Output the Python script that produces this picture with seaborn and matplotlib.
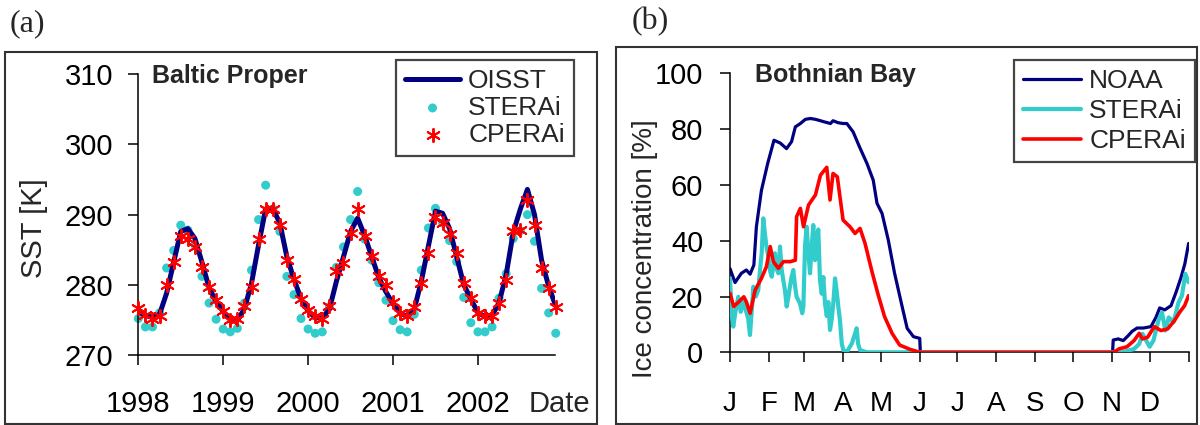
import numpy as np
import seaborn as sns
import matplotlib.pyplot as plt
from matplotlib.patches import Rectangle

sns.set_theme(style='ticks')
plt.rcParams['font.family'] = ['Liberation Sans', 'DejaVu Sans']

# (a) Baltic Proper, monthly SST [K], Jan 1998 - Dec 2002
months = np.arange(60)
oisst = [276.2, 275.6, 275.4, 275.8, 278.8, 283.2, 287.6, 288.0, 286.6, 283.2, 279.6, 277.6,
         276.2, 275.0, 274.9, 276.6, 280.2, 285.7, 290.8, 290.9, 288.8, 284.0, 280.8, 278.0,
         276.3, 275.3, 275.3, 276.5, 280.5, 284.0, 287.6, 289.5, 287.0, 284.0, 281.0, 279.0,
         277.3, 276.0, 275.5, 276.5, 280.5, 285.5, 290.5, 290.2, 288.0, 284.0, 280.0, 278.0,
         276.0, 275.5, 275.6, 277.5, 281.5, 287.5, 290.8, 293.6, 290.0, 283.5, 279.8, 277.0]
sterai = [275.2, 274.0, 274.0, 276.0, 282.4, 284.9, 288.5, 287.8, 285.7, 281.2, 277.4, 275.1,
          273.7, 273.3, 273.8, 277.4, 282.1, 289.3, 294.2, 290.8, 287.6, 281.2, 278.6, 275.2,
          273.7, 273.1, 273.3, 276.9, 282.5, 285.4, 289.3, 293.3, 286.5, 283.5, 280.3, 277.8,
          274.9, 273.6, 273.3, 275.8, 282.1, 288.1, 290.9, 288.8, 286.3, 283.3, 278.2, 274.6,
          273.3, 273.3, 274.0, 278.1, 281.6, 286.6, 287.7, 290.0, 286.2, 279.5, 276.0, 273.1]
cperai = [276.7, 275.7, 275.2, 275.5, 280.0, 283.3, 286.9, 286.6, 285.4, 282.6, 279.7, 277.9,
          276.2, 275.0, 275.1, 277.0, 279.7, 286.6, 290.8, 290.8, 288.5, 283.6, 280.9, 278.0,
          276.4, 275.5, 275.2, 277.0, 281.9, 283.1, 287.4, 290.8, 286.9, 284.1, 281.3, 280.0,
          277.6, 276.0, 275.5, 276.8, 280.2, 284.5, 289.7, 288.8, 287.2, 284.5, 280.2, 278.1,
          276.0, 275.6, 275.6, 277.4, 280.7, 287.6, 287.8, 292.1, 288.5, 282.4, 279.5, 276.8]
years = [1998, 1999, 2000, 2001, 2002]

# (b) Bothnian Bay, ice concentration [%] by day of year
noaa_day = [0, 4, 9, 13, 16, 19, 21, 25, 30, 35, 40, 45, 49, 52, 56, 60, 64, 68, 72, 75, 80, 82,
            86, 90, 93, 98, 103, 109, 114, 117, 121, 126, 131, 137, 141, 146, 151, 151.5,
            304.5, 305, 309, 313, 317, 320, 324, 329, 335, 339, 342, 346, 351, 355, 359, 362, 365]
noaa_val = [30, 25, 28.3, 29.5, 28, 31.3, 45, 58, 67.7, 76, 75, 73, 75.5, 80.8, 82, 83.5, 83.8,
            83.5, 83, 82.6, 82, 83, 82.3, 82, 82, 79, 73.7, 67.7, 61.7, 53.4, 49.8, 40.2, 28.3,
            16.4, 8.6, 5.6, 5, 0, 0, 4.4, 4.8, 4.2, 6, 7.5, 8.7, 8.7, 9.2, 12.5, 15.9, 15.2,
            16.7, 21.5, 26.9, 31.7, 39]
ster_day = [0, 1.3, 2.6, 4.5, 6.6, 8.5, 10.6, 12.5, 14.5, 15.9, 17.5, 18.6, 20.5, 22.5, 24, 25.2,
            26.5, 27.9, 29, 30.5, 32, 33.2, 34.5, 35.8, 37, 38.5, 39.8, 41, 42.4, 43.8, 45.1,
            46.5, 47.7, 49, 50.4, 51.7, 53, 55.7, 57.5, 58.4, 59.7, 61, 62.3, 63.7, 65, 66.3,
            67.7, 69, 70.3, 71.6, 73, 74.3, 75.6, 77, 78.3, 79.6, 81, 82.2, 83.6, 84.9, 86.2,
            87.5, 89, 90.2, 93, 95.5, 97, 99, 100.8, 102, 103.5, 109, 150,
            312, 321.6, 325.7, 328.3, 334, 337, 341, 343.8, 346.5, 349.2, 353, 357, 359.7,
            362.4, 365]
ster_val = [26.5, 14, 9.2, 15, 19.9, 14.5, 18, 15.2, 12, 6.2, 16, 23.5, 20, 22.3, 30, 35.5,
            48, 42, 38, 34.3, 29, 27.1, 31, 35.5, 30, 28.3, 37.9, 30, 25.9, 22, 16.4,
            20, 23.5, 27, 29.5, 24, 19.9, 17.5, 14, 16.4, 38, 45, 36, 28.3, 38, 45.6,
            33, 41.4, 44, 25.9, 21, 27, 17.5, 13, 18, 8, 12, 17.5, 26.5, 22, 16.4,
            11.6, 3, 0.8, 0.2, 2, 3.2, 6, 8.6, 3, 0.8, 0, 0,
            0, 1.2, 3, 6.6, 2, 4.2, 11.4, 14.3, 7.8, 12.5, 10.8, 17.9, 20.3, 28.1, 25.1]
cper_day = [0, 3, 7, 11, 13, 16, 20, 25, 29, 32, 34.5, 38.5, 42.5, 48, 52, 53, 56, 58.5, 62.5,
            68, 72, 77, 79.6, 82, 85.4, 90, 95.5, 99.5, 103.5, 107.5, 113, 118, 123, 129, 135,
            143, 151, 305.5, 309.5, 316, 321.6, 325.7, 328.3, 332.4, 337.7, 343, 348.4, 353.8,
            357.8, 361.8, 365]
cper_val = [21.1, 16.4, 18.1, 19.9, 18.1, 14, 22.3, 26.5, 30.7, 37.9, 32.5, 30.1, 32.5, 32.5, 33,
            48.6, 51.6, 45, 52.8, 56.4, 63.5, 66.3, 54.6, 64.1, 62.9, 47.4, 45, 42.6, 44.4, 39,
            28.9, 20.5, 12.8, 6.8, 2.6, 1.1, 0, 0, 1.2, 2, 4.2, 6.8, 4.8, 5.4, 9.2, 7.8, 8.4,
            11.4, 14.3, 16.7, 20.3]
month_start = [0, 31, 59, 90, 120, 151, 181, 212, 243, 273, 304, 334, 365]
month_lab = ['J', 'F', 'M', 'A', 'M', 'J', 'J', 'A', 'S', 'O', 'N', 'D', '']

navy = '#000080'
cyan = '#33CCCC'
red = '#FF0000'

fig = plt.figure(figsize=(12, 4.25), dpi=100)
W, H = 1200, 425

def axes_px(x0, x1, ytop, ybot):
    return fig.add_axes([x0 / W, 1 - ybot / H, (x1 - x0) / W, (ybot - ytop) / H])

ax1 = axes_px(138.3, 555, 74.3, 355)
ax2 = axes_px(730, 1188.6, 73.3, 352.3)

# panel (a)
t = 1998 + months / 12
sns.scatterplot(x=t, y=sterai, ax=ax1, color=cyan, s=42, edgecolor='none',
                label='STERAi', zorder=2, clip_on=False)
sns.lineplot(x=t, y=oisst, ax=ax1, color=navy, lw=3.6, label='OISST', zorder=3)
sns.scatterplot(x=t, y=cperai, ax=ax1, color=red, marker=(6, 2, 0), s=90, linewidth=1.4,
                label='CPERAi', zorder=4, clip_on=False)
ax1.set_xlim(1998, 2002.908)
ax1.set_ylim(270, 310)
ax1.set_xticks(years)
ax1.set_yticks([270, 280, 290, 300, 310])
ax1.set_xlabel('')
ax1.set_ylabel('')
ax1.annotate('Date', xy=(1, 0), xycoords='axes fraction', xytext=(3, -25.5),
             textcoords='offset points', ha='center', va='top', fontsize=21)
h, l = ax1.get_legend_handles_labels()
order = [l.index('OISST'), l.index('STERAi'), l.index('CPERAi')]
ax1.legend([h[i] for i in order], [l[i] for i in order], loc='upper right',
           bbox_to_anchor=(574 / W, 1 - 60 / H), bbox_transform=fig.transFigure,
           borderaxespad=0, fontsize=19, frameon=True, fancybox=False, framealpha=1,
           edgecolor='#444444', handlelength=2.1, handletextpad=0.3, labelspacing=0.1,
           borderpad=0.35, scatterpoints=1)
ax1.get_legend().get_frame().set_linewidth(1.6)
fig.text(152 / W, 1 - 83 / H, 'Baltic Proper', fontsize=18, fontweight='bold',
         va='baseline')
fig.text(34.5 / W, 1 - 228.5 / H, 'SST [K]', fontsize=21, rotation=90,
         ha='center', va='center')

# panel (b)
sns.lineplot(x=noaa_day, y=noaa_val, ax=ax2, color=navy, lw=2.3, label='NOAA', zorder=2)
sns.lineplot(x=ster_day, y=ster_val, ax=ax2, color=cyan, lw=3.0, label='STERAi', zorder=3)
sns.lineplot(x=cper_day, y=cper_val, ax=ax2, color=red, lw=2.6, label='CPERAi', zorder=4)
ax2.set_xlim(0, 365)
ax2.set_ylim(0, 100)
ax2.set_xticks(month_start)
ax2.set_xticklabels(month_lab)
ax2.set_yticks([0, 20, 40, 60, 80, 100])
ax2.set_xlabel('')
ax2.set_ylabel('')
ax2.legend(loc='upper right', bbox_to_anchor=(1195 / W, 1 - 60 / H),
           bbox_transform=fig.transFigure, borderaxespad=0, fontsize=19, frameon=True,
           fancybox=False, framealpha=1, edgecolor='#444444', handlelength=2.2,
           handletextpad=0.3, labelspacing=0.22, borderpad=0.35)
ax2.get_legend().get_frame().set_linewidth(1.6)
fig.text(755 / W, 1 - 82 / H, 'Bothnian Bay', fontsize=18, fontweight='bold',
         va='baseline')
fig.text(645 / W, 1 - 248.5 / H, 'Ice concentration [%]', fontsize=20, rotation=90,
         ha='center', va='center')

for ax, ypad, xpad, xsize in [(ax1, 11, 18, 21), (ax2, 12, 21, 20)]:
    sns.despine(ax=ax)
    for s in ['left', 'bottom']:
        ax.spines[s].set_linewidth(1.1)
        ax.spines[s].set_color('black')
    ax.tick_params(axis='both', direction='out', length=7.2, width=1.1, colors='black')
    ax.tick_params(axis='y', labelsize=21, pad=ypad)
    ax.tick_params(axis='x', labelsize=xsize, pad=xpad)
    ax.set_facecolor('white')

# outer panel boxes and panel letters
fig.add_artist(Rectangle((5 / W, 1 - 424 / H), 592 / W, 372 / H, transform=fig.transFigure,
                         fill=False, ec='#333333', lw=1.5))
fig.add_artist(Rectangle((616 / W, 1 - 424 / H), 581 / W, 377 / H, transform=fig.transFigure,
                         fill=False, ec='#333333', lw=1.5))
fig.text(10 / W, 1 - 31 / H, '(a)', fontsize=23, family='Liberation Serif', va='baseline')
fig.text(632 / W, 1 - 29 / H, '(b)', fontsize=23, family='Liberation Serif', va='baseline')

fig.savefig('out.png', dpi=100, facecolor='white')
